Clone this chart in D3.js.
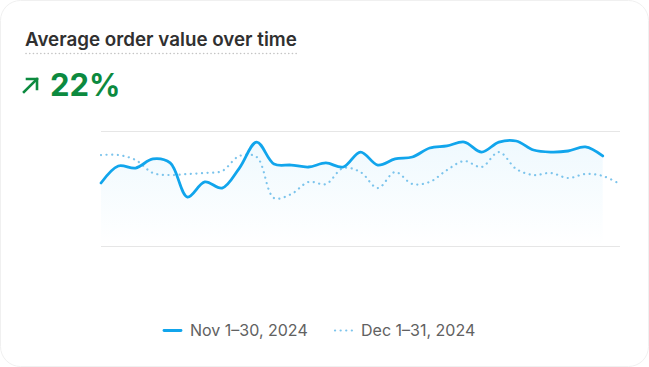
<!DOCTYPE html>
<html>
<head>
<meta charset="utf-8">
<script src="https://cdn.jsdelivr.net/npm/d3@7"></script>
<style>
  html, body { margin: 0; padding: 0; background: #fff; }
  svg { display: block; font-family: Inter, "Open Sans", sans-serif; }
</style>
</head>
<body>
<svg id="chart" width="649" height="367"></svg>
<script>
// ---- data (arbitrary value units, grid top = 100) ----
const title = "Average order value over time";
const changeLabel = "22%";
const seriesNames = ["Nov 1–30, 2024", "Dec 1–31, 2024"];
const novValues = [54.8, 69.6, 67.8, 75.7, 72.2, 42.6, 55.7, 50.4, 67.8, 90.4,
                   71.3, 70.4, 68.7, 72.2, 68.7, 81.7, 70.4, 75.7, 77.4, 85.2,
                   87.0, 90.4, 81.7, 90.4, 91.3, 83.5, 81.7, 82.6, 86.1, 78.3];
const decValues = [79.1, 79.1, 74.8, 63.5, 61.7, 62.6, 63.5, 65.2, 78.3, 77.4,
                   41.7, 45.2, 55.7, 53.9, 67.8, 64.3, 50.4, 64.3, 53.9, 55.7,
                   66.1, 73.9, 68.7, 81.7, 67.0, 61.7, 63.5, 59.1, 62.6, 60.9, 53.9];
const gridValues = [0, 100];

const W = 649, H = 367;
const svg = d3.select("#chart");

// card
svg.append("rect").attr("x", 0.5).attr("y", 0.5).attr("width", W - 1).attr("height", H - 1)
  .attr("rx", 20).attr("fill", "#fff").attr("stroke", "#f0f0f0");

// title
svg.append("text").attr("x", 25).attr("y", 46).text(title)
  .attr("font-size", 18.8).attr("font-weight", 600).attr("fill", "#303030");
svg.append("line").attr("x1", 26).attr("x2", 297).attr("y1", 53.5).attr("y2", 53.5)
  .attr("stroke", "#c4c4c4").attr("stroke-width", 1.6).attr("stroke-linecap", "round")
  .attr("stroke-dasharray", "0.1,3.6");

// change indicator
const green = "#0c8a3f";
const ag = svg.append("g").attr("transform", "translate(22,77)")
  .attr("stroke", green).attr("stroke-width", 2.6).attr("fill", "none").attr("stroke-linecap", "square");
ag.append("path").attr("d", "M2,15 L15,2");
ag.append("path").attr("d", "M5,2 L15,2 L15,12");
svg.append("text").attr("x", 50).attr("y", 96).text(changeLabel)
  .attr("font-size", 31).attr("font-weight", 700).attr("fill", green);

// scales
const n = Math.max(novValues.length, decValues.length);
const x = d3.scaleLinear().domain([0, n - 1]).range([101, 620]);
const y = d3.scaleLinear().domain([0, 100]).range([246, 131]);

// grid
svg.append("g").selectAll("line").data(gridValues).join("line")
  .attr("x1", 101).attr("x2", 620)
  .attr("y1", d => Math.round(y(d)) + 0.5).attr("y2", d => Math.round(y(d)) + 0.5)
  .attr("stroke", "#e6e6e6").attr("stroke-width", 1);

// gradient for area
const defs = svg.append("defs");
const grad = defs.append("linearGradient").attr("id", "areaGrad")
  .attr("x1", 0).attr("x2", 0).attr("y1", 0).attr("y2", 1);
grad.append("stop").attr("offset", "0%").attr("stop-color", "#1eaaf0").attr("stop-opacity", 0.07);
grad.append("stop").attr("offset", "100%").attr("stop-color", "#1eaaf0").attr("stop-opacity", 0.0);

const curve = d3.curveCatmullRom.alpha(0.5);
const area = d3.area().x((d, i) => x(i)).y0(y(0)).y1(d => y(d)).curve(curve);
const line = d3.line().x((d, i) => x(i)).y(d => y(d)).curve(curve);

svg.append("path").datum(novValues).attr("d", area)
  .attr("fill", "url(#areaGrad)");

svg.append("path").datum(decValues).attr("d", line)
  .attr("fill", "none").attr("stroke", "#7cc4ec").attr("stroke-width", 2.2)
  .attr("stroke-linecap", "round").attr("stroke-dasharray", "0.1,5.5");

svg.append("path").datum(novValues).attr("d", line)
  .attr("fill", "none").attr("stroke", "#11a5ec").attr("stroke-width", 2.8)
  .attr("stroke-linejoin", "round").attr("stroke-linecap", "round");

// legend
const lg = svg.append("g");
lg.append("line").attr("x1", 164).attr("x2", 181).attr("y1", 330.5).attr("y2", 330.5)
  .attr("stroke", "#11a5ec").attr("stroke-width", 2.8).attr("stroke-linecap", "round");
lg.append("text").attr("x", 190).attr("y", 336).text(seriesNames[0])
  .attr("font-size", 16).attr("fill", "#616161");
lg.append("line").attr("x1", 335).attr("x2", 352).attr("y1", 330.5).attr("y2", 330.5)
  .attr("stroke", "#7cc4ec").attr("stroke-width", 2.2).attr("stroke-linecap", "round")
  .attr("stroke-dasharray", "0.1,5.5");
lg.append("text").attr("x", 361).attr("y", 336).text(seriesNames[1])
  .attr("font-size", 16).attr("fill", "#616161");
</script>
</body>
</html>
